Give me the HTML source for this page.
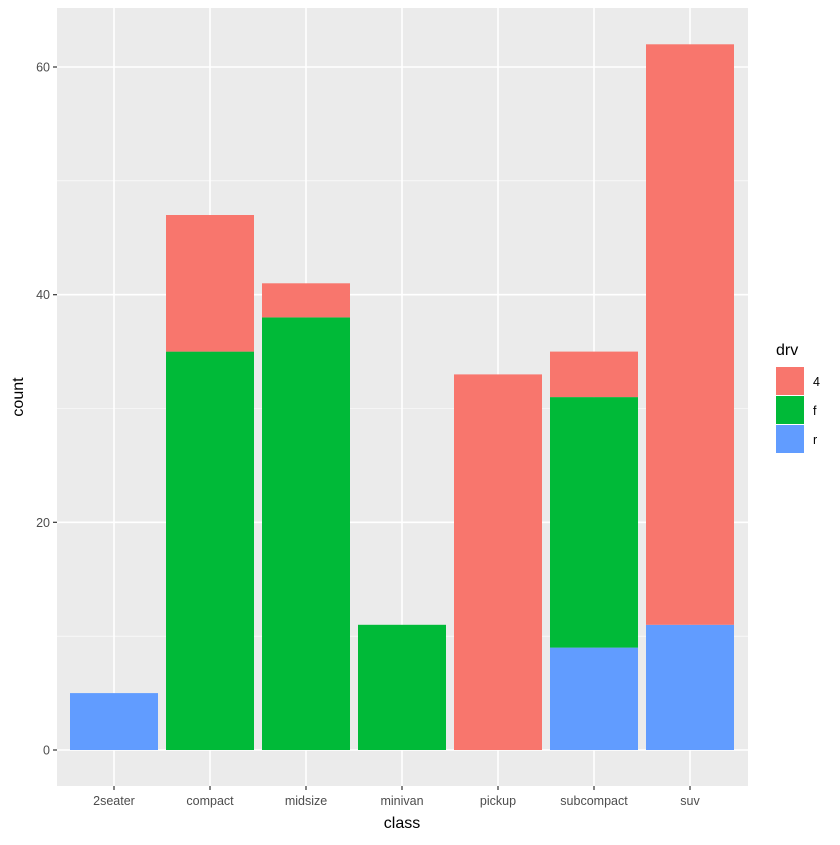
<!DOCTYPE html><html><head><style>body{margin:0;background:#fff}</style></head><body>
<svg width="840" height="840" xmlns="http://www.w3.org/2000/svg" font-family="Liberation Sans, sans-serif">
<rect x="57" y="8" width="691" height="778" fill="#ebebeb"/>
<g stroke="#fff" stroke-width="0.6">
<line x1="57" x2="748" y1="636.2" y2="636.2"/><line x1="57" x2="748" y1="408.5" y2="408.5"/><line x1="57" x2="748" y1="180.8" y2="180.8"/>
</g>
<g stroke="#fff" stroke-width="1.6">
<line x1="57" x2="748" y1="750" y2="750"/><line x1="57" x2="748" y1="522.3" y2="522.3"/><line x1="57" x2="748" y1="294.7" y2="294.7"/><line x1="57" x2="748" y1="67" y2="67"/>
<line x1="114" x2="114" y1="8" y2="786"/><line x1="210" x2="210" y1="8" y2="786"/><line x1="306" x2="306" y1="8" y2="786"/><line x1="402" x2="402" y1="8" y2="786"/><line x1="498" x2="498" y1="8" y2="786"/><line x1="594" x2="594" y1="8" y2="786"/><line x1="690" x2="690" y1="8" y2="786"/>
</g>
<rect x="70" y="693.1" width="88" height="56.9" fill="#619cff"/>
<rect x="166" y="351.6" width="88" height="398.4" fill="#00ba38"/><rect x="166" y="215" width="88" height="136.6" fill="#f8766d"/>
<rect x="262" y="317.4" width="88" height="432.6" fill="#00ba38"/><rect x="262" y="283.3" width="88" height="34.1" fill="#f8766d"/>
<rect x="358" y="624.8" width="88" height="125.2" fill="#00ba38"/>
<rect x="454" y="374.4" width="88" height="375.6" fill="#f8766d"/>
<rect x="550" y="647.6" width="88" height="102.4" fill="#619cff"/><rect x="550" y="397.1" width="88" height="250.5" fill="#00ba38"/><rect x="550" y="351.6" width="88" height="45.5" fill="#f8766d"/>
<rect x="646" y="624.8" width="88" height="125.2" fill="#619cff"/><rect x="646" y="44.3" width="88" height="580.5" fill="#f8766d"/>
<g stroke="#333" stroke-width="1.2">
<line x1="53" x2="57" y1="750" y2="750"/><line x1="53" x2="57" y1="522.3" y2="522.3"/><line x1="53" x2="57" y1="294.7" y2="294.7"/><line x1="53" x2="57" y1="67" y2="67"/>
<line x1="114" x2="114" y1="786" y2="790"/><line x1="210" x2="210" y1="786" y2="790"/><line x1="306" x2="306" y1="786" y2="790"/><line x1="402" x2="402" y1="786" y2="790"/><line x1="498" x2="498" y1="786" y2="790"/><line x1="594" x2="594" y1="786" y2="790"/><line x1="690" x2="690" y1="786" y2="790"/>
</g>
<g fill="#4d4d4d" font-size="12.5" text-anchor="end">
<text x="50" y="754.5">0</text><text x="50" y="526.8">20</text><text x="50" y="299.2">40</text><text x="50" y="71.5">60</text>
</g>
<g fill="#4d4d4d" font-size="12.5" text-anchor="middle">
<text x="114" y="805">2seater</text><text x="210" y="805">compact</text><text x="306" y="805">midsize</text><text x="402" y="805">minivan</text><text x="498" y="805">pickup</text><text x="594" y="805">subcompact</text><text x="690" y="805">suv</text>
</g>
<text x="402" y="828" font-size="16" text-anchor="middle">class</text>
<text transform="translate(23,397) rotate(-90)" font-size="16" text-anchor="middle">count</text>
<text x="776" y="355" font-size="16">drv</text>
<rect x="776" y="367" width="28" height="28" fill="#f8766d"/>
<rect x="776" y="396" width="28" height="28" fill="#00ba38"/>
<rect x="776" y="425" width="28" height="28" fill="#619cff"/>
<g font-size="12.5"><text x="813" y="386">4</text><text x="813" y="415">f</text><text x="813" y="444">r</text></g>
</svg>
</body></html>
